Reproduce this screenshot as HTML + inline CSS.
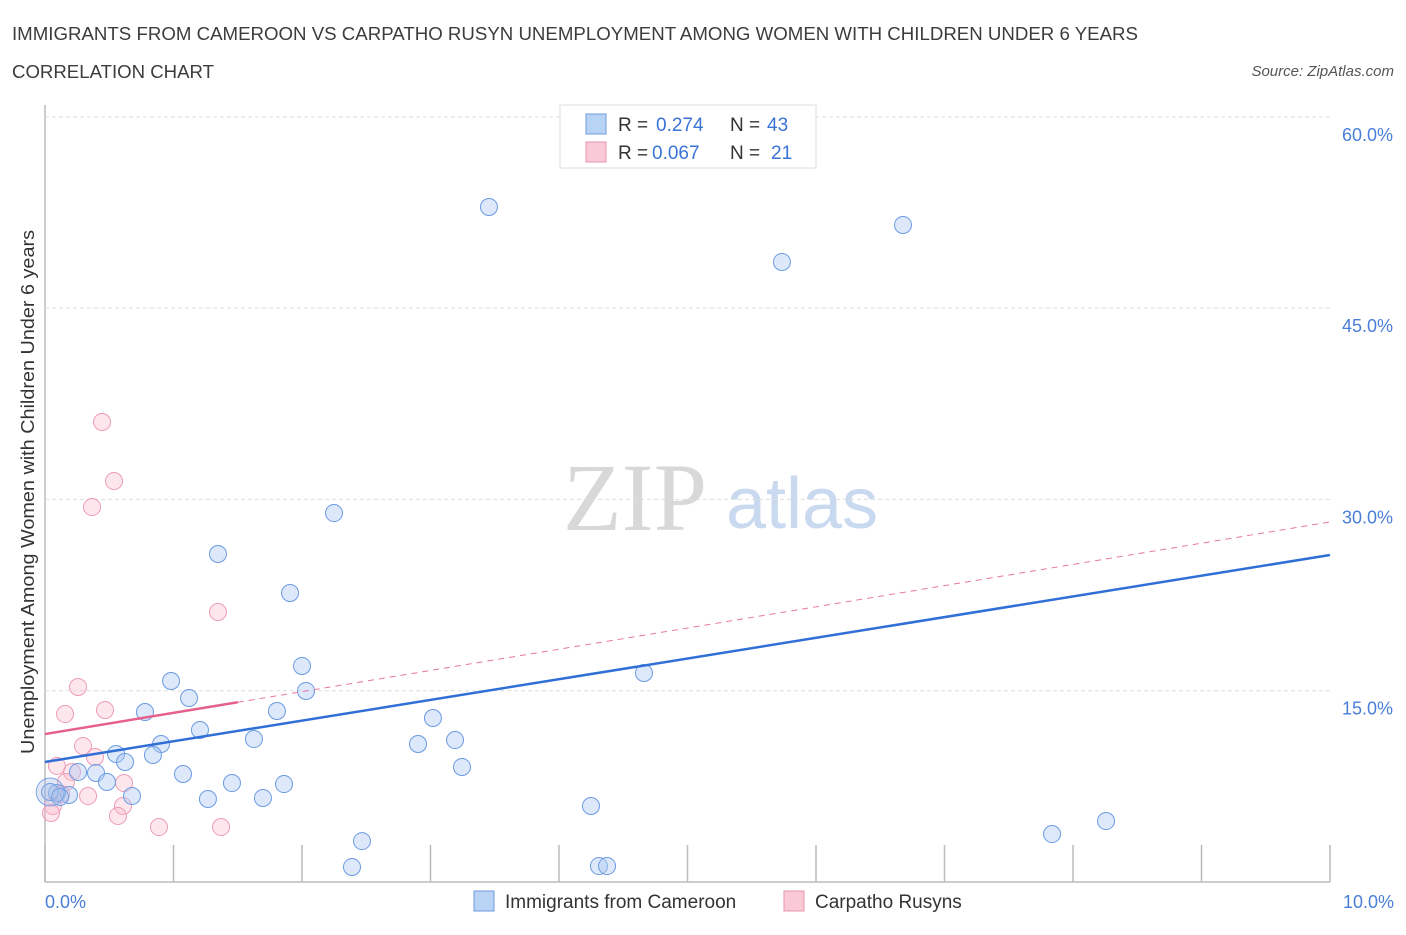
<!DOCTYPE html>
<html><head><meta charset="utf-8"><style>
body{margin:0;background:#fff;font-family:"Liberation Sans",sans-serif;}
</style></head><body>
<svg width="1406" height="930" xmlns="http://www.w3.org/2000/svg" id="chart">
<text x="12" y="40" font-size="18" fill="#3c3c3c" textLength="1126" lengthAdjust="spacingAndGlyphs">IMMIGRANTS FROM CAMEROON VS CARPATHO RUSYN UNEMPLOYMENT AMONG WOMEN WITH CHILDREN UNDER 6 YEARS</text>
<text x="12" y="78" font-size="18" fill="#3c3c3c" textLength="202" lengthAdjust="spacingAndGlyphs">CORRELATION CHART</text>
<text x="1394" y="76" font-size="15" fill="#555" font-style="italic" text-anchor="end">Source: ZipAtlas.com</text>
<text x="635" y="530" font-size="96" fill="#d8d8d8" text-anchor="middle" font-family="Liberation Serif,serif">ZIP</text>
<text x="802" y="528" font-size="72" fill="#c9d9f0" text-anchor="middle">atlas</text>
<g id="grid"></g><g id="marks"></g>
<text x="34" y="492" font-size="18" fill="#333" text-anchor="middle" transform="rotate(-90 34 492)" textLength="524" lengthAdjust="spacingAndGlyphs">Unemployment Among Women with Children Under 6 years</text>
<text x="45" y="908" font-size="18" fill="#4a7fd8">0.0%</text>
<text x="1394" y="908" font-size="18" fill="#4a7fd8" text-anchor="end">10.0%</text>
<g>
<rect x="560" y="105" width="256" height="63" fill="#fff" stroke="#ddd"/>
<rect x="586" y="114" width="20" height="20" fill="#b9d3f5" stroke="#6d9be0"/>
<text x="618" y="131" font-size="19" fill="#333">R =</text>
<text x="656" y="131" font-size="19" fill="#3a74d6">0.274</text>
<text x="730" y="131" font-size="19" fill="#333">N =</text>
<text x="767" y="131" font-size="19" fill="#3a74d6">43</text>
<rect x="586" y="142" width="20" height="20" fill="#f9c9d6" stroke="#e995ad"/>
<text x="618" y="159" font-size="19" fill="#333">R =</text>
<text x="652" y="159" font-size="19" fill="#3a74d6">0.067</text>
<text x="730" y="159" font-size="19" fill="#333">N =</text>
<text x="771" y="159" font-size="19" fill="#3a74d6">21</text>
</g>
<g>
<rect x="474" y="891" width="20" height="20" fill="#b9d3f5" stroke="#6d9be0"/>
<text x="505" y="908" font-size="19" fill="#333">Immigrants from Cameroon</text>
<rect x="784" y="891" width="20" height="20" fill="#f9c9d6" stroke="#e995ad"/>
<text x="815" y="908" font-size="19" fill="#333">Carpatho Rusyns</text>
</g>
</svg>
<script>
const yTicks=[15,30,45,60];
const yTickLabels=["15.0%","30.0%","45.0%","60.0%"];
const xTicks=[0,1,2,3,4,5,6,7,8,9,10];
const blueX=[3.455,6.677,5.735,2.249,1.346,1.907,4.661,2.000,2.031,0.981,1.121,0.778,1.805,3.019,1.206,0.903,1.626,2.903,3.191,0.553,0.840,0.623,3.245,0.397,1.074,0.257,0.482,1.455,1.860,0.677,1.268,1.696,0.187,0.093,0.039,4.249,8.257,7.837,2.467,2.389,4.311,4.374,0.117];
const blueY=[52.93,51.52,48.62,28.93,25.72,22.66,16.39,16.94,14.98,15.76,14.43,13.33,13.41,12.86,11.92,10.82,11.21,10.82,11.13,10.04,9.96,9.41,9.02,8.55,8.47,8.63,7.84,7.76,7.68,6.74,6.51,6.59,6.82,6.98,7.06,5.96,4.78,3.76,3.21,1.18,1.25,1.25,6.67];
const pinkX=[0.444,0.537,0.366,1.346,0.257,0.156,0.467,0.296,0.389,0.093,0.615,0.210,0.163,0.335,0.125,0.062,0.047,0.607,0.568,0.887,1.370];
const pinkY=[36.07,31.44,29.40,21.17,15.29,13.17,13.49,10.66,9.80,9.10,7.76,8.63,7.84,6.74,6.90,5.96,5.41,5.96,5.18,4.31,4.31];
const blueTrend=[9.41,25.64];
const pinkTrend=[11.6,28.23];
const pinkSolidEnd=1.5;
const NS="http://www.w3.org/2000/svg";
const X=v=>45+v*128.5, Y=v=>882-v*12.753;
const grid=document.getElementById('grid'), marks=document.getElementById('marks');
function mk(tag,a,p){const e=document.createElementNS(NS,tag);for(const k in a)e.setAttribute(k,a[k]);p.appendChild(e);return e;}
let ax=mk('line',{x1:45,y1:105,x2:45,y2:882,stroke:'#bbb','stroke-width':1.5},grid);


let bx=mk('line',{x1:45,y1:882,x2:1330,y2:882,stroke:'#bbb','stroke-width':1.5},grid);


yTicks.forEach((t,i)=>{
 let g=mk('line',{x1:45,x2:1330,y1:Y(t),y2:Y(t),stroke:'#ddd','stroke-dasharray':'4 3'},grid);
 
 
 let tx=mk('text',{x:1393,y:Y(t)+24,'font-size':18,fill:'#4a7fd8','text-anchor':'end'},grid);tx.textContent=yTickLabels[i];
 
 
});
xTicks.forEach(t=>{
 let l=mk('line',{x1:X(t),x2:X(t),y1:845,y2:882,stroke:'#bbb','stroke-width':1.5},grid);
 
 
});
function pts(xs,ys,fill,stroke,name){xs.forEach((x,i)=>{
 let c=mk('circle',{cx:X(x),cy:Y(ys[i]),r:8.5,fill:fill,stroke:stroke,'stroke-width':1},marks);
 
 
});}
pts(pinkX,pinkY,'rgba(248,185,203,0.35)','#ee9cb5','pink-point');
pts(blueX,blueY,'rgba(170,200,242,0.4)','#6b9be2','blue-point');
let big=mk('circle',{cx:X(0.04),cy:Y(7.06),r:14,fill:'rgba(150,175,225,0.3)',stroke:'#7ea6e4','stroke-width':1},marks);


const pv=x=>pinkTrend[0]+(pinkTrend[1]-pinkTrend[0])*x/10;
let pd=mk('line',{x1:X(pinkSolidEnd),y1:Y(pv(pinkSolidEnd)),x2:X(10),y2:Y(pinkTrend[1]),stroke:'#e8799c','stroke-width':1,'stroke-dasharray':'6 5'},marks);


let ps=mk('line',{x1:X(0),y1:Y(pinkTrend[0]),x2:X(pinkSolidEnd),y2:Y(pv(pinkSolidEnd)),stroke:'#e5608a','stroke-width':2.5},marks);


let bl=mk('line',{x1:X(0),y1:Y(blueTrend[0]),x2:X(10),y2:Y(blueTrend[1]),stroke:'#2f6fd6','stroke-width':2.5},marks);


</script>
</body></html>
